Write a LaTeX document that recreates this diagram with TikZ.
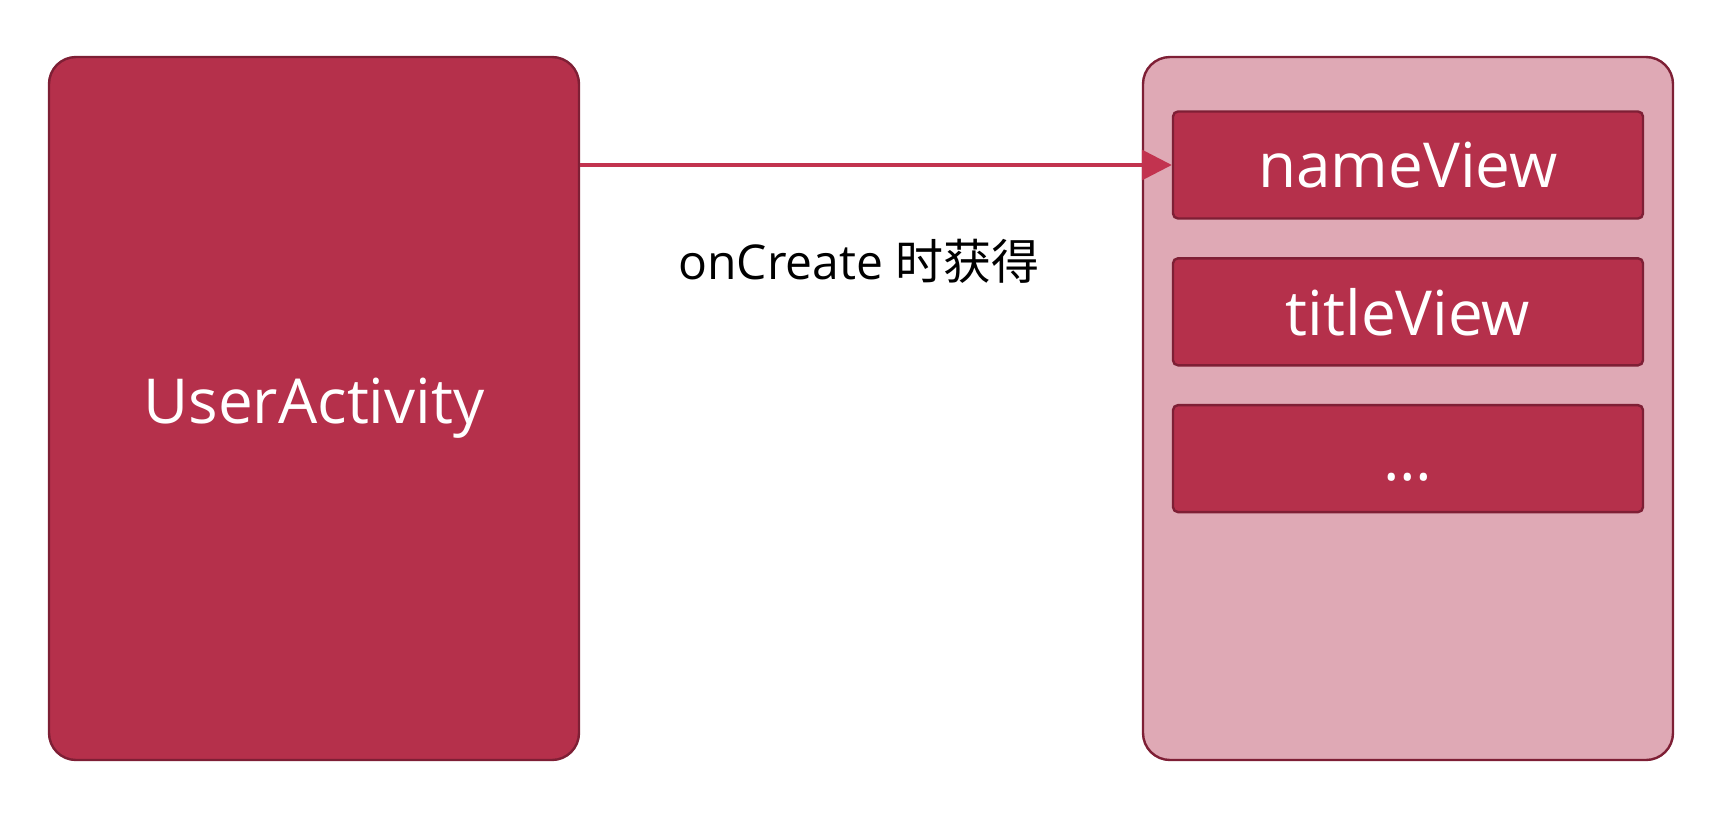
\documentclass[tikz,border=0pt]{standalone}
\usepackage{fontspec}
\setmainfont{Open Sans}
\newfontfamily\cjk{Noto Sans CJK SC}
\usetikzlibrary{positioning,arrows.meta}

\definecolor{boxred}{HTML}{B5304B}
\definecolor{boxedge}{HTML}{7E1F35}
\definecolor{holderpink}{HTML}{DFA9B5}
\definecolor{linkred}{HTML}{C2334F}

\begin{document}
\begin{tikzpicture}[x=0.5pt,y=-0.5pt]
    \tikzstyle{outer} = [draw=boxedge, line width=1.2pt, rounded corners=13.5pt,
        minimum width=265pt, minimum height=351.5pt, inner sep=0pt]
    \tikzstyle{field} = [draw=boxedge, line width=1.2pt, fill=boxred, rounded corners=2.5pt,
        minimum width=235pt, minimum height=53.5pt, inner sep=0pt,
        text=white, font=\fontsize{31}{36}\selectfont]
    \tikzstyle{ann} = [draw=none, fill=none, align=center, font=\fontsize{24}{28}\selectfont]

    \useasboundingbox (0,0) rectangle (1714,814);

    % activity on the left, view holder on the right
    \node[outer, fill=boxred, text=white, font=\fontsize{31}{36}\selectfont]
        (activity) at (314,408.5) {UserActivity};
    \node[outer, fill=holderpink] (holder) at (1408,408.5) {};

    %% fields in the holder
    \node[field, below=27.25pt of holder.north] (name) {nameView};
    \node[field, below=18.7pt of name] (title) {titleView};
    \node[field, below=18.7pt of title] (more) {\vphantom{V}\ldots};

    \draw[linkred, line width=1.75pt, -{Triangle[length=15pt,width=15pt]}]
        (activity.east |- name.west) -- (name.west);
    \node[ann] (when) at (859,261) {onCreate {\cjk 时获得}};
\end{tikzpicture}
\end{document}
